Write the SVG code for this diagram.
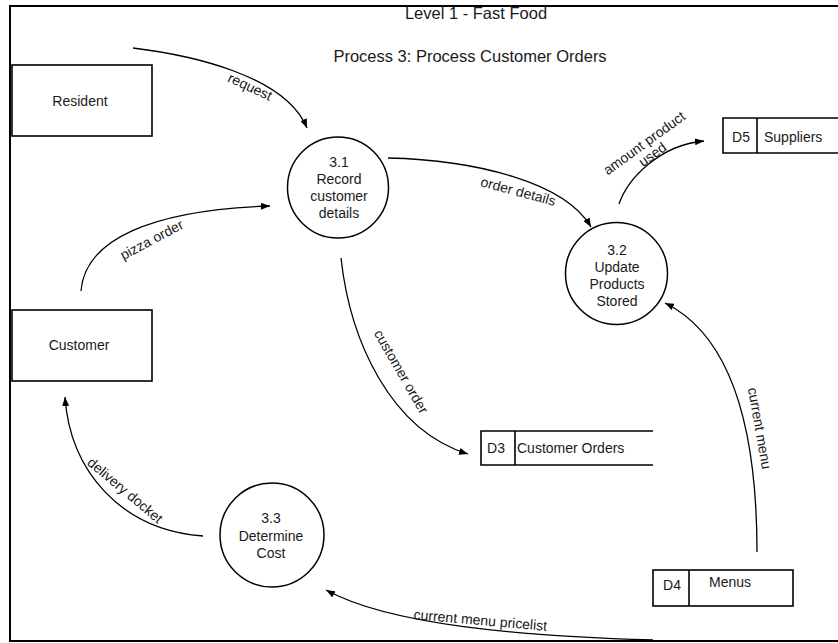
<svg xmlns="http://www.w3.org/2000/svg" width="838" height="643" viewBox="0 0 838 643">
<defs>
<marker id="arr" markerUnits="userSpaceOnUse" markerWidth="9" markerHeight="7" refX="9" refY="3.5" orient="auto">
<path d="M0,0 L9,3.5 L0,7 z" fill="#000"/>
</marker>
<style>
text{font-family:"Liberation Sans",Arial,sans-serif;fill:#1a1a1a}
.t{font-size:16.5px}
.n{font-size:14px;text-anchor:middle}
.s{font-size:14px}
.l{font-size:14px;text-anchor:middle}
.box{fill:#fff;stroke:#000;stroke-width:1.6}
.circ{fill:#fff;stroke:#000;stroke-width:1.5}
.ds{fill:none;stroke:#000;stroke-width:1.6}
.c{fill:none;stroke:#000;stroke-width:1.3;marker-end:url(#arr)}
</style>
</defs>
<rect x="10" y="6" width="840" height="635" fill="#fff" stroke="#000" stroke-width="2"/>
<text class="t" x="476" y="19" text-anchor="middle">Level 1  - Fast Food</text>
<text class="t" x="470" y="62" text-anchor="middle">Process 3: Process Customer Orders</text>

<g id="resident"><rect class="box" x="12" y="65" width="140" height="71"/><text class="n" x="80" y="106">Resident</text></g>
<g id="customer"><rect class="box" x="12" y="310" width="140" height="71"/><text class="n" x="79" y="350">Customer</text></g>

<g id="p31"><circle class="circ" cx="338" cy="187.5" r="50.5"/>
<text class="n" x="339" y="167">3.1</text><text class="n" x="339" y="184">Record</text><text class="n" x="339" y="201">customer</text><text class="n" x="339" y="218">details</text></g>
<g id="p32"><circle class="circ" cx="616.5" cy="273.5" r="51"/>
<text class="n" x="617" y="255">3.2</text><text class="n" x="617" y="272">Update</text><text class="n" x="617" y="289">Products</text><text class="n" x="617" y="306">Stored</text></g>
<g id="p33"><circle class="circ" cx="272" cy="535" r="52"/>
<text class="n" x="271" y="523">3.3</text><text class="n" x="271" y="541">Determine</text><text class="n" x="271" y="558">Cost</text></g>

<g id="d5"><path class="ds" d="M845,118 H723 V153 H845 M757,118 V153"/><text class="n" x="741" y="142">D5</text><text class="s" x="764" y="142">Suppliers</text></g>
<g id="d3"><path class="ds" d="M653,431 H481 V465 H653 M515,431 V465"/><text class="n" x="496" y="453">D3</text><text class="s" x="517" y="453">Customer Orders</text></g>
<g id="d4"><rect class="box" x="653" y="570" width="140" height="36"/><path class="ds" d="M689,570 V606"/><text class="n" x="672" y="590">D4</text><text class="n" x="730" y="587">Menus</text></g>

<g id="connectors">
<path class="c" d="M133,48 C190,55 285,75 307,128"/>
<path class="c" d="M81,291 C85,240 150,210 270,206"/>
<path class="c" d="M388,158 C475,160 565,182 591,227"/>
<path class="c" d="M619,204 C628,178 660,145 704,141"/>
<path class="c" d="M341,258 C350,340 390,430 468,454"/>
<path class="c" d="M757,552 C757,450 740,340 665,303"/>
<path class="c" d="M653,640 C520,636 390,625 326,590"/>
<path class="c" d="M203,536 C120,530 70,470 65,397"/>
<text class="l" transform="translate(248,91) rotate(25)">request</text>
<text class="l" transform="translate(154,244) rotate(-28)">pizza order</text>
<text class="l" transform="translate(517,196) rotate(15)">order details</text>
<text class="l" transform="translate(647,147) rotate(-36)">amount product<tspan x="0" dy="14">used</tspan></text>
<text class="l" transform="translate(397,374) rotate(60)">customer order</text>
<text class="l" transform="translate(755,429) rotate(80)">current menu</text>
<text class="l" transform="translate(480,625) rotate(5)">current menu pricelist</text>
<text class="l" transform="translate(122,494) rotate(40)">delivery docket</text>
</g>
</svg>
